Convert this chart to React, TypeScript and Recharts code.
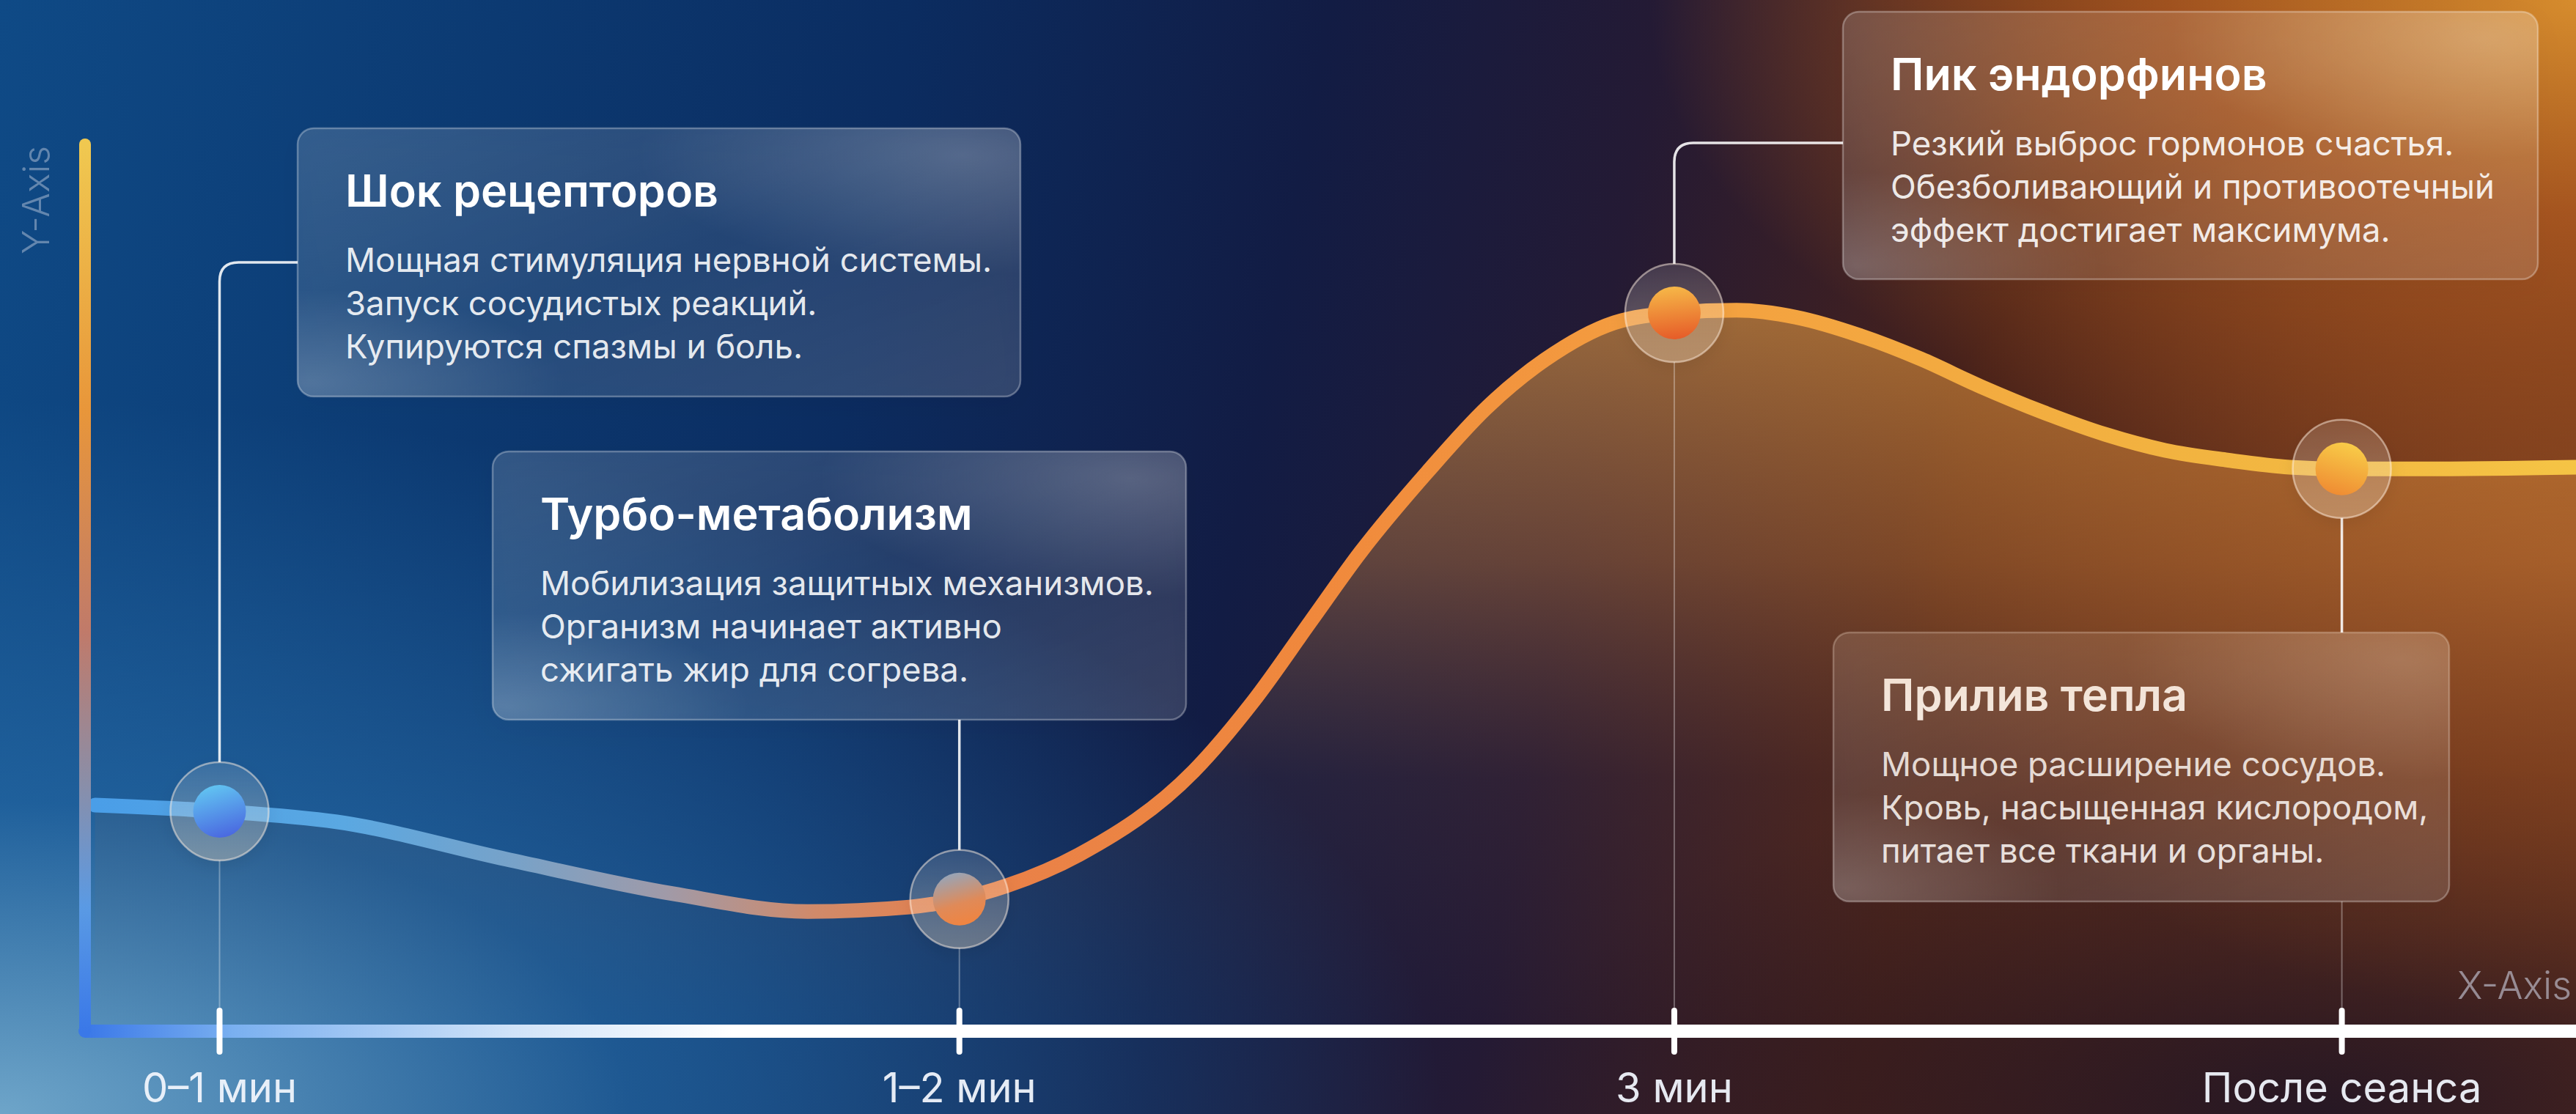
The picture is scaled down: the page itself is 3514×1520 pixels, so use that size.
import React from 'react';
import { ComposedChart, Area, Line, Scatter, XAxis, YAxis } from 'recharts';

const W = 3514;
const H = 1520;
const X_AXIS_H = 113;
const AXIS_Y = H - X_AXIS_H;

// Curve (t: position on the timeline 0..100, v: level 0..100)
const curveT = [0.4, 5.4, 10.1, 16.9, 23.6, 29.0, 33.1, 35.1, 37.0, 39.9, 44.5, 46.9, 49.2, 51.2, 53.9, 56.3, 58.6, 61.4, 63.8, 66.3, 68.7, 71.2, 73.7, 76.1, 78.6, 81.1, 83.5, 86.0, 88.5, 90.6, 93.4, 100];
const curveV = [25.5, 24.8, 23.6, 19.4, 15.5, 13.5, 14.0, 14.9, 16.4, 19.9, 29.3, 37.2, 46.2, 54.0, 63.1, 70.4, 75.7, 79.9, 81.0, 81.3, 80.5, 78.5, 75.8, 72.7, 69.8, 67.3, 65.5, 64.4, 63.6, 63.4, 63.4, 63.6];

// Stages (key points)
const stageT = [5.4, 35.1, 63.8, 90.6];
const stageV = [24.8, 14.9, 81.0, 63.4];
const tickLabels = ['0–1 мин', '1–2 мин', '3 мин', 'После сеанса'];
const cardTitles = ['Шок рецепторов', 'Турбо-метаболизм', 'Пик эндорфинов', 'Прилив тепла'];
const cardLines = [
  ['Мощная стимуляция нервной системы.', 'Запуск сосудистых реакций.', 'Купируются спазмы и боль.'],
  ['Мобилизация защитных механизмов.', 'Организм начинает активно', 'сжигать жир для согрева.'],
  ['Резкий выброс гормонов счастья.', 'Обезболивающий и противоотечный', 'эффект достигает максимума.'],
  ['Мощное расширение сосудов.', 'Кровь, насыщенная кислородом,', 'питает все ткани и органы.'],
];

// Layout of the callout cards (pixels)
const cardBoxes = [
  { x: 406, y: 175, w: 986, h: 366, elbowY: 358, mode: 'elbow' },
  { x: 672, y: 616, w: 946, h: 366, elbowY: 0, mode: 'up' },
  { x: 2514, y: 16, w: 948, h: 365, elbowY: 195, mode: 'elbow' },
  { x: 2501, y: 863, w: 840, h: 367, elbowY: 0, mode: 'down' },
];

const curveData = curveT.map((t, i) => ({ t, v: curveV[i] }));
const stageData = stageT.map((t, i) => ({ t, v: stageV[i], idx: i }));

const FONT = 'Inter, "Noto Sans", sans-serif';
const R_OUT = 67;
const R_IN = 36;

const Marker = (props: any) => {
  const { cx, cy, payload } = props;
  if (cx == null || cy == null) return null;
  const i = payload.idx;
  const box = cardBoxes[i];
  let path = '';
  let faintStart = cy + R_OUT;
  if (box.mode === 'elbow') {
    const ey = box.elbowY;
    const rr = 26;
    path = `M${cx},${cy - R_OUT} L${cx},${ey + rr} Q${cx},${ey} ${cx + rr},${ey} L${box.x},${ey}`;
  } else if (box.mode === 'up') {
    path = `M${cx},${cy - R_OUT} L${cx},${box.y + box.h}`;
  } else {
    path = `M${cx},${cy + R_OUT} L${cx},${box.y}`;
    faintStart = box.y + box.h;
  }
  return (
    <g>
      <line x1={cx} x2={cx} y1={faintStart} y2={AXIS_Y - 26} stroke="rgba(255,255,255,0.32)" strokeWidth={2} />
      <path d={path} fill="none" stroke="rgba(255,255,255,0.88)" strokeWidth={3.5} />
      <circle cx={cx} cy={cy} r={R_OUT} fill="url(#ringFill)" stroke="rgba(255,240,225,0.5)" strokeWidth={2.5} filter="url(#markerShadow)" />
      <circle cx={cx} cy={cy} r={R_IN} fill={`url(#inner${i})`} />
    </g>
  );
};

const Tick = (props: any) => {
  const { x, y, payload } = props;
  const idx = stageT.indexOf(payload.value);
  const label = idx >= 0 ? tickLabels[idx] : '';
  return (
    <g>
      <line x1={x} x2={x} y1={y - 28} y2={y + 28} stroke="#ffffff" strokeWidth={8} strokeLinecap="round" />
      <text x={x} y={y + 97} textAnchor="middle" fontSize={56} fontFamily={FONT} fill="rgba(240,244,252,0.95)">{label}</text>
    </g>
  );
};

const YLabel = (props: any) => {
  const vb = props.viewBox || { x: 115, y: 197 };
  const x = 49;
  const y = (vb.y || 197) + 76;
  return (
    <text x={x} y={y} transform={`rotate(-90 ${x} ${y})`} textAnchor="middle" dominantBaseline="central" fontSize={50} fontFamily={FONT} fontWeight={300} fill="rgba(170,185,210,0.55)">Y-Axis</text>
  );
};

const XLabel = (props: any) => {
  const vb = props.viewBox || { x: 116, y: AXIS_Y, width: 3398 };
  return (
    <text x={vb.x + vb.width - 6} y={vb.y - 44} textAnchor="end" fontSize={52} fontFamily={FONT} fontWeight={300} fill="rgba(195,195,210,0.65)">X-Axis</text>
  );
};

const Cards = () => (
  <g>
    {cardBoxes.map((b, i) => (
      <g key={i}>
        <rect x={b.x} y={b.y} width={b.w} height={b.h} rx={22} fill="url(#cardBase)" filter="url(#cardShadow)" />
        <rect x={b.x} y={b.y} width={b.w} height={b.h} rx={22} fill="url(#cardSheenTR)" />
        <rect x={b.x} y={b.y} width={b.w} height={b.h} rx={22} fill="url(#cardSheenBL)" stroke="rgba(255,255,255,0.3)" strokeWidth={2.5} />
        <text x={b.x + 65} y={b.y + 107} fontSize={61} fontWeight={600} fontFamily={FONT} fill="#ffffff">{cardTitles[i]}</text>
        {cardLines[i].map((ln, j) => (
          <text key={j} x={b.x + 65} y={b.y + 196 + j * 59} fontSize={45.5} fontFamily={FONT} fill="rgba(255,255,255,0.9)">{ln}</text>
        ))}
      </g>
    ))}
  </g>
);

const bg = [
  'radial-gradient(70% 80% at 0% 100%, rgba(115,170,205,0.95) 0%, rgba(40,110,170,0.65) 35%, rgba(20,80,140,0) 80%)',
  'radial-gradient(45% 55% at 100% 0%, rgba(214,140,45,1) 0%, rgba(175,90,32,0.85) 35%, rgba(120,50,25,0) 80%)',
  'radial-gradient(35% 55% at 100% 50%, rgba(150,80,35,0.7) 0%, rgba(120,60,30,0) 75%)',
  'radial-gradient(40% 40% at 90% 100%, rgba(28,20,38,0.85) 0%, rgba(28,20,38,0) 80%)',
  'linear-gradient(100deg, #0f4a86 0%, #0c3a72 18%, #0b2c60 33%, #121c44 48%, #241a34 60%, #4a2219 74%, #6a3018 100%)',
].join(',');

export default function App() {
  return (
    <div style={{ position: 'absolute', left: 0, top: 0, width: W, height: H, background: bg, overflow: 'hidden', fontFamily: FONT }}>
      <ComposedChart width={W} height={H} data={curveData} margin={{ top: 197, right: 0, bottom: 0, left: 115 }}>
        <defs>
          <linearGradient id="lineGrad" gradientUnits="userSpaceOnUse" x1={130} y1={0} x2={3514} y2={0}>
            <stop offset="0" stopColor="#4a9ee8" />
            <stop offset="0.1" stopColor="#5aa8e2" />
            <stop offset="0.17" stopColor="#78a2c8" />
            <stop offset="0.23" stopColor="#a09aa8" />
            <stop offset="0.29" stopColor="#d08a6a" />
            <stop offset="0.35" stopColor="#e8804a" />
            <stop offset="0.49" stopColor="#f0883c" />
            <stop offset="0.64" stopColor="#f4a040" />
            <stop offset="0.85" stopColor="#f2b440" />
            <stop offset="1" stopColor="#f5c445" />
          </linearGradient>
          <linearGradient id="areaGrad" x1="0" y1="0" x2="0" y2="1">
            <stop offset="0" stopColor="#f2a442" stopOpacity="0.95" />
            <stop offset="0.35" stopColor="#dc8a3c" stopOpacity="0.6" />
            <stop offset="0.65" stopColor="#b06a3a" stopOpacity="0.15" />
            <stop offset="1" stopColor="#b06a3a" stopOpacity="0" />
          </linearGradient>
          <linearGradient id="xAxisGrad" gradientUnits="userSpaceOnUse" x1={116} y1={0} x2={3514} y2={0}>
            <stop offset="0" stopColor="#3a78e8" />
            <stop offset="0.06" stopColor="#7ab0f0" />
            <stop offset="0.17" stopColor="#cfe2f8" />
            <stop offset="0.26" stopColor="#ffffff" />
            <stop offset="1" stopColor="#ffffff" />
          </linearGradient>
          <linearGradient id="yAxisGrad" gradientUnits="userSpaceOnUse" x1={0} y1={197} x2={0} y2={1407}>
            <stop offset="0" stopColor="#f0c850" />
            <stop offset="0.3" stopColor="#e8963a" />
            <stop offset="0.55" stopColor="#c07a6a" />
            <stop offset="0.72" stopColor="#8a8ea8" />
            <stop offset="0.86" stopColor="#5a9ae4" />
            <stop offset="1" stopColor="#3a78e8" />
          </linearGradient>
          <linearGradient id="ringFill" x1="0" y1="0" x2="0" y2="1">
            <stop offset="0" stopColor="#ffffff" stopOpacity="0.12" />
            <stop offset="1" stopColor="#ffe8c8" stopOpacity="0.32" />
          </linearGradient>
          <linearGradient id="inner0" x1="0.3" y1="0" x2="0.6" y2="1">
            <stop offset="0" stopColor="#62c6f2" />
            <stop offset="1" stopColor="#4a68e0" />
          </linearGradient>
          <linearGradient id="inner1" x1="0.3" y1="0" x2="0.6" y2="1">
            <stop offset="0" stopColor="#94a6bc" />
            <stop offset="0.6" stopColor="#e08a58" />
            <stop offset="1" stopColor="#f08440" />
          </linearGradient>
          <linearGradient id="inner2" x1="0.4" y1="0" x2="0.5" y2="1">
            <stop offset="0" stopColor="#f6b848" />
            <stop offset="1" stopColor="#e65c28" />
          </linearGradient>
          <linearGradient id="inner3" x1="0.6" y1="0" x2="0.3" y2="1">
            <stop offset="0" stopColor="#f8cc48" />
            <stop offset="1" stopColor="#ef8a32" />
          </linearGradient>
          <linearGradient id="cardBase" x1="0" y1="0" x2="1" y2="1">
            <stop offset="0" stopColor="#ffffff" stopOpacity="0.15" />
            <stop offset="0.5" stopColor="#ffffff" stopOpacity="0.09" />
            <stop offset="1" stopColor="#ffffff" stopOpacity="0.14" />
          </linearGradient>
          <radialGradient id="cardSheenTR" cx="0.92" cy="0.1" r="0.45">
            <stop offset="0" stopColor="#ffffff" stopOpacity="0.22" />
            <stop offset="1" stopColor="#ffffff" stopOpacity="0" />
          </radialGradient>
          <radialGradient id="cardSheenBL" cx="0.02" cy="0.95" r="0.35">
            <stop offset="0" stopColor="#ffffff" stopOpacity="0.2" />
            <stop offset="1" stopColor="#ffffff" stopOpacity="0" />
          </radialGradient>
          <filter id="cardShadow" x="-10%" y="-10%" width="120%" height="135%">
            <feDropShadow dx="0" dy="10" stdDeviation="18" floodColor="#000000" floodOpacity="0.25" />
          </filter>
          <filter id="markerShadow" x="-40%" y="-40%" width="180%" height="180%">
            <feDropShadow dx="0" dy="6" stdDeviation="10" floodColor="#000000" floodOpacity="0.22" />
          </filter>
        </defs>
        <XAxis
          dataKey="t"
          type="number"
          domain={[0, 100]}
          ticks={stageT}
          interval={0}
          height={X_AXIS_H}
          tickSize={0}
          tickMargin={0}
          tickLine={false}
          tick={<Tick />}
          axisLine={{ stroke: 'url(#xAxisGrad)', strokeWidth: 18, strokeLinecap: 'round' }}
          label={(p: any) => <XLabel {...p} />}
        />
        <YAxis
          type="number"
          domain={[0, 100]}
          width={1}
          tick={false}
          tickLine={false}
          axisLine={{ stroke: 'url(#yAxisGrad)', strokeWidth: 16, strokeLinecap: 'round' }}
          label={(p: any) => <YLabel {...p} />}
        />
        <Area type="monotone" dataKey="v" stroke="none" fill="url(#areaGrad)" isAnimationActive={false} />
        <Line type="monotone" dataKey="v" stroke="url(#lineGrad)" strokeWidth={20} strokeLinecap="round" dot={false} activeDot={false} isAnimationActive={false} />
        <Scatter data={stageData} dataKey="v" shape={Marker} isAnimationActive={false} />
        <Cards />
      </ComposedChart>
    </div>
  );
}
